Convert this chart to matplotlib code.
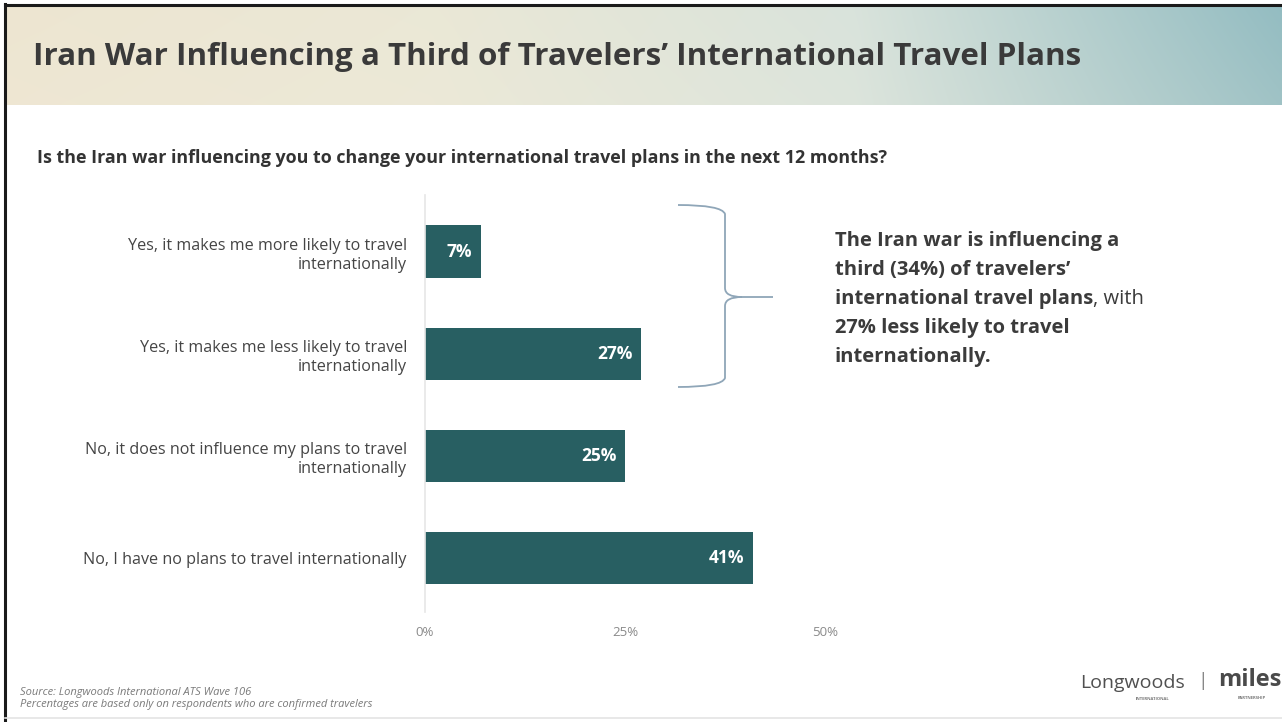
import numpy as np
import matplotlib
matplotlib.use("Agg")
import matplotlib.pyplot as plt
from matplotlib.path import Path
from matplotlib.patches import PathPatch

# data
categories = ["Yes, it makes me more likely to travel\ninternationally",
              "Yes, it makes me less likely to travel\ninternationally",
              "No, it does not influence my plans to travel\ninternationally",
              "No, I have no plans to travel internationally"]
values = [7, 27, 25, 41]
xticks = [0, 25, 50]
xtick_labels = ["0%", "25%", "50%"]

title = "Iran War Influencing a Third of Travelers\u2019 International Travel Plans"
question = ("Is the Iran war influencing you to change your international "
            "travel plans in the next 12 months?")
callout = ["The Iran war is influencing a",
           "third (34%) of travelers\u2019",
           "international travel plans",
           "27% less likely to travel",
           "internationally."]
source_lines = ["Source: Longwoods International ATS Wave 106",
                "Percentages are based only on respondents who are confirmed travelers"]

BAR = "#285f62"
TXT = "#3b3b3b"
BODY = "Open Sans"

W, H = 1282, 722
fig = plt.figure(figsize=(W / 100, H / 100), dpi=100)
fig.patch.set_facecolor("white")

# full-figure overlay in pixel coords for decoration
bg = fig.add_axes([0, 0, 1, 1], zorder=0)
bg.set_xlim(0, W)
bg.set_ylim(H, 0)
bg.axis("off")

# header gradient (beige on the left, teal on the right)
stops = np.array([[0.93, 0.90, 0.82],
                  [0.92, 0.91, 0.84],
                  [0.85, 0.89, 0.86],
                  [0.58, 0.74, 0.76]])
xs = np.linspace(0, 1, 300)
pos = np.linspace(0, 1, len(stops))
row = np.stack([np.interp(xs, pos, stops[:, k]) for k in range(3)], axis=1)
ts = np.linspace(0, 1, 60)[:, None, None]
img = row[None, :, :] * (1 - 0.12 * ts) + 0.12 * ts * np.array([0.97, 0.94, 0.88])
bg.imshow(img, extent=[6, W, 105, 6], aspect="auto", interpolation="bilinear")

# slide frame
bg.plot([5, 5], [4, H], color="#1a1a1a", lw=2.2)
bg.plot([5, W], [5, 5], color="#1a1a1a", lw=2.2)
bg.plot([5, W], [718, 718], color="#e4e4e4", lw=1.2)

# brace
verts = [(678, 205), (722, 205), (725, 214),
         (725, 288),
         (725, 297), (742, 297),
         (773, 297),
         (742, 297), (725, 297), (725, 306),
         (725, 378),
         (722, 387), (678, 387)]
codes = [Path.MOVETO, Path.CURVE3, Path.CURVE3,
         Path.LINETO,
         Path.CURVE3, Path.CURVE3,
         Path.LINETO,
         Path.MOVETO, Path.CURVE3, Path.CURVE3,
         Path.LINETO,
         Path.CURVE3, Path.CURVE3]
bg.add_patch(PathPatch(Path(verts, codes), fill=False, edgecolor="#8fa6b8", lw=1.3))

renderer = fig.canvas.get_renderer()


def fit(t, width):
    w = t.get_window_extent(renderer).width
    t.set_fontsize(t.get_fontsize() * width / w)
    return t.get_fontsize()


t = bg.text(33, 57, title, fontsize=24, fontfamily="Open Sans",
            fontweight="bold", color="#3a3a3a", va="center", ha="left")
fit(t, 1050)
t = bg.text(37, 158, question, fontsize=12, fontfamily=BODY, fontweight="bold",
            color="#333333", va="center", ha="left")
fit(t, 848)

# callout text, sized so the first line matches the reference width
ys = [241, 270, 299, 328, 357]
size = 13
for s, y in zip(callout, ys):
    t = bg.text(835, y, s, fontsize=size, fontfamily=BODY, fontweight="bold",
                color=TXT, va="center", ha="left")
    if y == ys[0]:
        size = fit(t, 282)
    if s.startswith("international travel plans"):
        ext = t.get_window_extent(renderer)
        bg.text(835 + ext.width, y, ", with", fontsize=size, fontfamily=BODY,
                color=TXT, va="center", ha="left")

# footer (both lines same size, second line sets it)
t2 = bg.text(20, 705, source_lines[1], fontsize=6, fontfamily=BODY, fontstyle="italic",
             color="#7a7a7a", va="center", ha="left")
fsize = fit(t2, 355)
bg.text(20, 693, source_lines[0], fontsize=fsize, fontfamily=BODY, fontstyle="italic",
        color="#7a7a7a", va="center", ha="left")

# logos as text
bg.text(1132, 683, "Longwoods", fontsize=14, fontfamily="Open Sans", color="#505050",
        va="center", ha="center")
bg.text(1152, 699, "INTERNATIONAL", fontsize=3, fontfamily="Open Sans",
        fontweight="bold", color="#777777", va="center", ha="center")
bg.text(1203, 681, "|", fontsize=14, fontfamily="Open Sans", color="#888888",
        va="center", ha="center")
bg.text(1250, 680, "miles", fontsize=17, fontfamily="Open Sans", fontweight="bold",
        color="#4a4a4a", va="center", ha="center")
bg.text(1252, 698, "PARTNERSHIP", fontsize=3, fontfamily="Open Sans",
        fontweight="bold", color="#777777", va="center", ha="center")

# bar chart
ax = fig.add_axes([425 / W, 1 - 612 / H, 400 / W, 417 / H], zorder=1)
ax.patch.set_alpha(0)
y = np.arange(len(values))
ax.barh(y, values, height=0.51, color=BAR)
ax.set_xlim(0, 50)
ax.set_ylim(3.534, -0.554)
for side in ["top", "right", "bottom"]:
    ax.spines[side].set_visible(False)
ax.spines["left"].set_color("#e6e6e6")
ax.spines["left"].set_linewidth(1.2)

ax.set_yticks(y)
ax.set_yticklabels(categories, fontsize=11.6, fontfamily=BODY, color="#454545",
                   linespacing=1.3)
ax.set_xticks(xticks)
ax.set_xticklabels(xtick_labels, fontsize=9.5, fontfamily=BODY, color="#8a8a8a")
ax.tick_params(axis="y", length=0, pad=13)
ax.tick_params(axis="x", length=0, pad=10)

for i, v in enumerate(values):
    ax.text(v - 1.1, i, f"{v}%", ha="right", va="center", color="white",
            fontsize=12.5, fontweight="bold", fontfamily=BODY)

fig.savefig("out.png", dpi=100)
